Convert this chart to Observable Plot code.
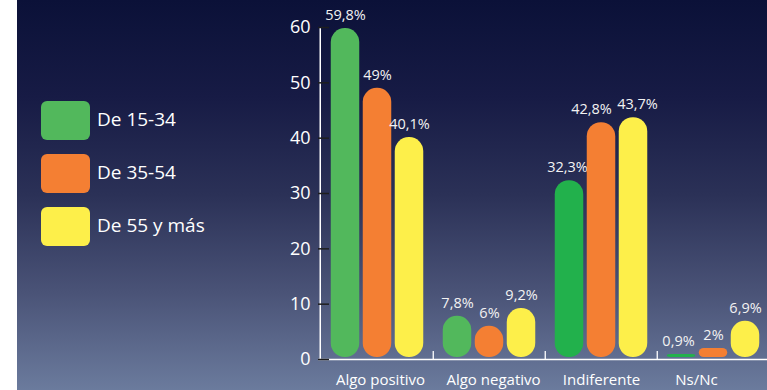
<!DOCTYPE html>
<html>
<head>
<meta charset="utf-8">
<script src="https://cdn.jsdelivr.net/npm/d3@7"></script>
<script src="https://cdn.jsdelivr.net/npm/@observablehq/plot@0.6"></script>
<style>
  html, body { margin: 0; padding: 0; background: #ffffff; }
  #wrap { position: relative; width: 767px; height: 390px; overflow: hidden; font-family: "Open Sans", sans-serif; }
  #bg { position: absolute; left: 17px; top: 0; width: 750px; height: 390px;
        background: linear-gradient(to bottom, #0b1138 0%, #171b45 25%, #2b3157 50%, #4a5377 75%, #6b7b9d 100%); }
  #chart { position: absolute; left: 0; top: 0; }
  #legend { position: absolute; left: 41px; top: 101px; }
  .item { position: relative; height: 53px; }
  .sw { position: absolute; left: 0; width: 49px; height: 39px; border-radius: 6px; }
  .lb { position: absolute; left: 56px; top: 18px; transform: translateY(-50%); color: #ffffff; font-size: 19px; white-space: nowrap; }
</style>
</head>
<body>
<div id="wrap">
  <div id="bg"></div>
  <div id="chart"></div>
  <div id="legend"></div>
</div>
<script>
// ---- data ----
const categories = ["Algo positivo", "Algo negativo", "Indiferente", "Ns/Nc"];
const groups = ["De 15-34", "De 35-54", "De 55 y más"];
const values1534 = [59.8, 7.8, 32.3, 0.9];
const values3554 = [49, 6, 42.8, 2];
const values55 = [40.1, 9.2, 43.7, 6.9];
const yTicks = [0, 10, 20, 30, 40, 50, 60];

// ---- styles ----
const groupColors = ["#52b85c", "#f47f33", "#fdef4a"];
const darkGreen = "#22b14c";
const offsets = [-32, 0, 32];
// small horizontal nudges (pixels) as in the original layout
const labelNudge = {"Indiferente|1": -10, "Indiferente|2": 4, "Indiferente|0": -2, "Ns/Nc|0": -3};
const catLabelNudge = {"Algo positivo": 3, "Algo negativo": 4, "Indiferente": 0, "Ns/Nc": -17};
const series = [values1534, values3554, values55];

const data = categories.flatMap((c, i) => groups.map((g, j) => ({category: c, group: g, gi: j, value: series[j][i]})));
const fmt = d => String(d.value).replace(".", ",") + "%";
const fillFor = d => d.gi === 0 ? (d.category === "Indiferente" || d.category === "Ns/Nc" ? darkGreen : groupColors[0]) : groupColors[d.gi];

const W = 767, H = 390, ML = 318, MR = 0, MT = 27, MB = 31;
const inset = (112.5 - 29) / 2;

const marks = [];
groups.forEach((g, j) => {
  const sub = data.filter(d => d.gi === j);
  marks.push(Plot.barY(sub.filter(d => d.value >= 3), {x: "category", y: "value", fill: fillFor, dx: offsets[j], insetLeft: inset, insetRight: inset, insetBottom: 2, rx: 14, ry: 14}));
  marks.push(Plot.barY(sub.filter(d => d.value < 3), {x: "category", y: "value", fill: fillFor, dx: offsets[j], insetLeft: inset, insetRight: inset, insetBottom: 2, rx: 5, ry: 5}));
  sub.forEach(d => {
    const n = labelNudge[d.category + "|" + j] || 0;
    marks.push(Plot.text([d], {x: "category", y: "value", text: fmt, dx: offsets[j] + n, dy: -13, fill: "#f2f2f2", fontSize: 14.5}));
  });
});

// axes
marks.push(Plot.ruleY([0], {y: d => d, stroke: "#ffffff", strokeWidth: 1.5}));
marks.push(Plot.ruleX([categories[0]], {x: d => d, y1: 0, y2: 60, dx: -57.25, stroke: "#ffffff", strokeWidth: 1.5}));
marks.push(Plot.ruleX(categories.slice(1), {x: d => d, y1: 0, y2: 1.45, dx: -56.25, stroke: "#ffffff", strokeWidth: 1.3}));
marks.push(Plot.ruleY(yTicks, {y: d => d, stroke: "#1e1e1e", strokeWidth: 1.5, insetRight: W - ML - MR - 11}));
marks.push(Plot.text(yTicks, {y: d => d, text: d => String(d), frameAnchor: "left", textAnchor: "end", dx: -8, fontSize: 18, fill: "#ffffff"}));
categories.forEach(c => {
  marks.push(Plot.text([c], {x: d => d, text: d => d, frameAnchor: "bottom", lineAnchor: "middle", dx: catLabelNudge[c], dy: 21, fontSize: 15, fill: "#ffffff"}));
});

const chart = Plot.plot({
  width: W, height: H,
  marginLeft: ML, marginRight: MR, marginTop: MT, marginBottom: MB,
  x: {type: "band", domain: categories, range: [320, 770], padding: 0, axis: null},
  y: {domain: [0, 60], axis: null},
  style: {background: "transparent", fontFamily: "Open Sans, sans-serif", overflow: "visible"},
  marks
});
document.getElementById("chart").appendChild(chart);

// legend (HTML)
const legend = document.getElementById("legend");
groups.forEach((g, j) => {
  const item = document.createElement("div");
  item.className = "item";
  const sw = document.createElement("div");
  sw.className = "sw";
  sw.style.background = groupColors[j];
  const lb = document.createElement("div");
  lb.className = "lb";
  lb.textContent = g;
  item.appendChild(sw); item.appendChild(lb);
  legend.appendChild(item);
});
</script>
</body>
</html>
